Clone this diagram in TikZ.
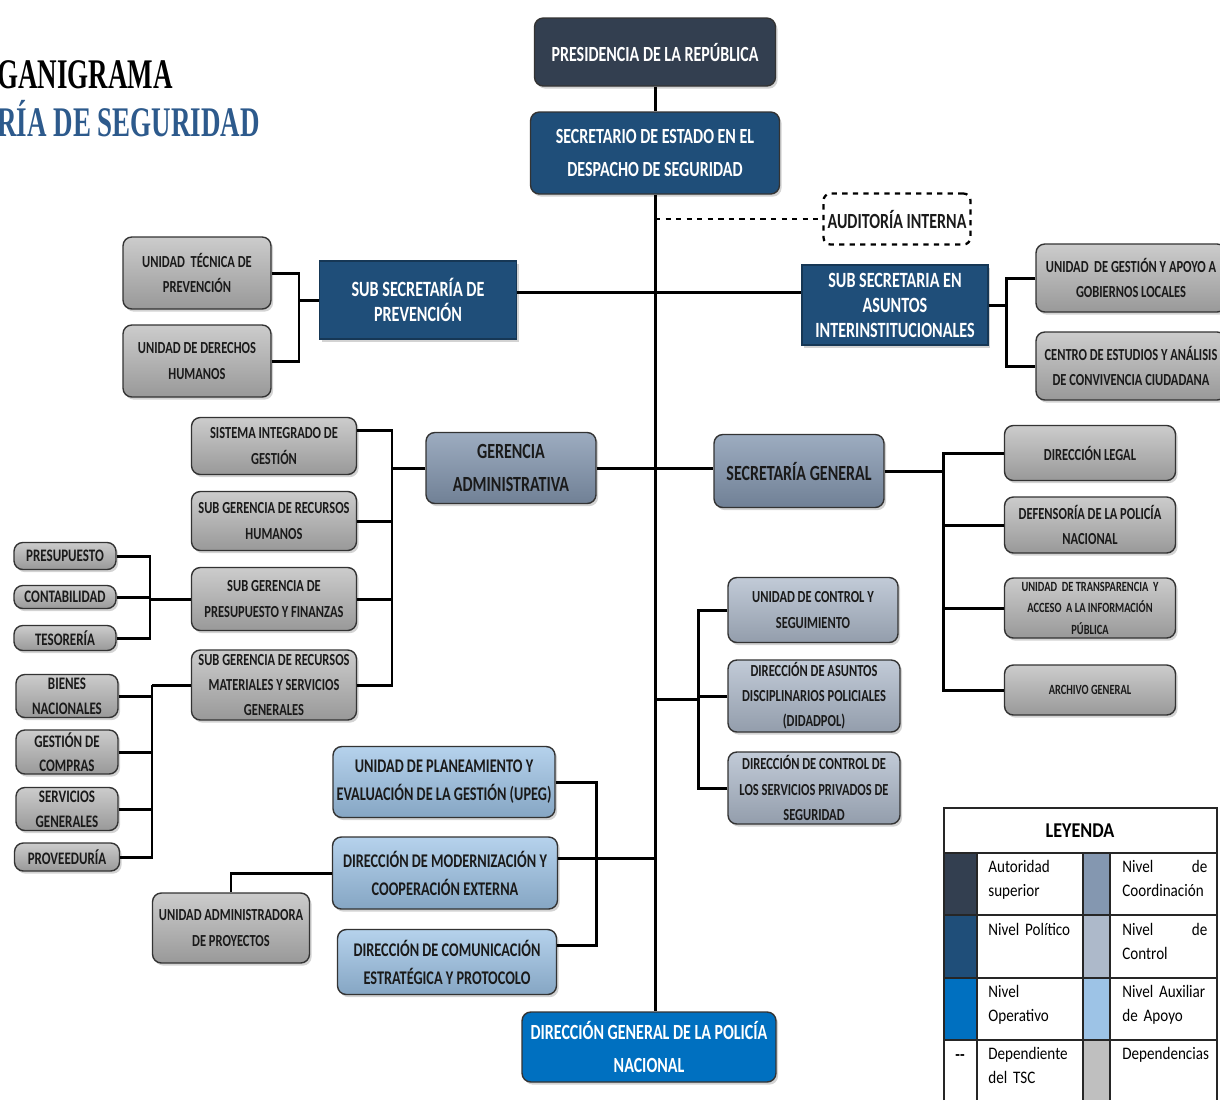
\documentclass[tikz,border=0pt]{standalone}
\usepackage{fontspec}
\newfontfamily\boxfont[FakeStretch=0.74]{Carlito}
\newfontfamily\legfont[FakeStretch=0.86]{Carlito}
\newfontfamily\titfont[FakeStretch=0.64]{Liberation Serif}
\usetikzlibrary{positioning,shadows,calc}
\definecolor{autor}{HTML}{333F50}
\definecolor{polit}{HTML}{1F4E79}
\definecolor{operat}{HTML}{0070C0}
\definecolor{coord}{HTML}{8497B0}
\definecolor{contr}{HTML}{ADB9CA}
\definecolor{auxil}{HTML}{9DC3E6}
\definecolor{depend}{HTML}{BFBFBF}
\definecolor{titblue}{HTML}{2D5A8C}
\definecolor{ink}{HTML}{1A1A1A}
\tikzset{
  unit/.style   ={draw=black!80, rounded corners=5pt, line width=0.8pt,
                  align=center, inner sep=1pt, text=ink,
                  font=\boxfont\bfseries,
                  drop shadow={opacity=0.35, shadow xshift=1.2pt,
                  shadow yshift=-1.5pt}},
  autbox/.style ={unit, fill=autor, text=white},
  polbox/.style ={unit, fill=polit, text=white},
  ssbox/.style  ={unit, rounded corners=0pt, draw=polit!70!black,
                  fill=polit, text=white},
  opbox/.style  ={unit, fill=operat, text=white},
  cobox/.style  ={unit, top color=coord!80!white, bottom color=coord!85!black},
  ctbox/.style  ={unit, top color=contr!75!white, bottom color=contr!85!black},
  axbox/.style  ={unit, top color=auxil!75!white, bottom color=auxil!85!black},
  dpbox/.style  ={unit, top color=depend!80!white, bottom color=depend!80!black},
  audbox/.style ={draw, dashed, rounded corners=4pt, line width=1.3pt,
                  fill=white, text=ink, inner sep=1pt},
  fbig/.style   ={font=\boxfont\bfseries\fontsize{12.3}{18.6}\selectfont},
  fss/.style    ={font=\boxfont\bfseries\fontsize{12.4}{14.2}\selectfont},
  faux/.style   ={font=\boxfont\bfseries\fontsize{11}{16}\selectfont},
  fmid/.style   ={font=\boxfont\bfseries\fontsize{9.6}{14.3}\selectfont},
  fsml/.style   ={font=\boxfont\bfseries\fontsize{10}{14}\selectfont},
  ftiny/.style  ={font=\boxfont\bfseries\fontsize{8}{12.2}\selectfont},
  link/.style   ={line width=1.7pt},
  legtxt/.style ={anchor=north west, inner sep=0pt, align=left,
                  font=\legfont\fontsize{10}{13.7}\selectfont},
  titl/.style   ={anchor=base west, inner sep=0pt,
                  font=\titfont\bfseries\fontsize{24}{28}\selectfont},
}
\begin{document}
\begin{tikzpicture}[x=0.02cm, y=-0.02cm]
  \useasboundingbox (0,0) rectangle (1220,1100);
  % ---- title
  \node[titl] (tit1) at (-3,88) {GANIGRAMA};
  \node[titl, text=titblue] (tit2) at (-3,136) {RÍA DE SEGURIDAD};
  % ---- top of the chain
  \node[autbox, fbig, minimum width=4.82cm, minimum height=1.36cm] (pres) at (655,52)
    {PRESIDENCIA DE LA REPÚBLICA};
  \node[polbox, fbig, minimum width=4.98cm, minimum height=1.64cm] (sec) at (655,153)
    {SECRETARIO DE ESTADO EN EL\\DESPACHO DE SEGURIDAD};
  \node[audbox, fbig, minimum width=2.94cm, minimum height=1.02cm] (aud) at (897,219)
    {AUDITORÍA INTERNA};
  \node[opbox, fbig, minimum width=5.08cm, minimum height=1.4cm] (dgpn) at (649,1047)
    {DIRECCIÓN GENERAL DE LA POLICÍA\\NACIONAL};
  % ---- sub secretarias
  \node[ssbox, fss, minimum width=3.94cm, minimum height=1.56cm] (ssp) at (418,300)
    {SUB SECRETARÍA DE\\PREVENCIÓN};
  \node[ssbox, fss, minimum width=3.72cm, minimum height=1.6cm] (ssai) at (895,305)
    {SUB SECRETARIA EN\\ASUNTOS\\INTERINSTITUCIONALES};
  \node[dpbox, fmid, minimum width=2.96cm, minimum height=1.44cm] (utp) at (197,273)
    {UNIDAD\ \ TÉCNICA DE\\PREVENCIÓN};
  \node[dpbox, fmid, minimum width=2.96cm, minimum height=1.44cm] (udh) at (197,361)
    {UNIDAD DE DERECHOS\\HUMANOS};
  \node[dpbox, fmid, minimum width=3.8cm, minimum height=1.36cm] (ugal) at (1131,278)
    {UNIDAD\ \ DE GESTIÓN Y APOYO A\\GOBIERNOS LOCALES};
  \node[dpbox, fmid, minimum width=3.8cm, minimum height=1.36cm] (ceac) at (1131,366)
    {CENTRO DE ESTUDIOS Y ANÁLISIS\\DE CONVIVENCIA CIUDADANA};
  % ---- gerencia administrativa
  \node[cobox, fbig, minimum width=3.4cm, minimum height=1.42cm] (ger) at (511,468)
    {GERENCIA\\ADMINISTRATIVA};
  \node[dpbox, fmid, minimum width=3.3cm, minimum height=1.14cm] (sig) at (274,446)
    {SISTEMA INTEGRADO DE\\GESTIÓN};
  \node[dpbox, fmid, minimum width=3.3cm, minimum height=1.18cm] (sgrh) at (274,521)
    {SUB GERENCIA DE RECURSOS\\HUMANOS};
  \node[dpbox, fmid, minimum width=3.3cm, minimum height=1.26cm] (sgpf) at (274,599)
    {SUB GERENCIA DE\\PRESUPUESTO Y FINANZAS};
  \node[dpbox, fmid, minimum width=3.3cm, minimum height=1.4cm, inner sep=0pt] (sgrm) at (274,685)
    {SUB GERENCIA DE RECURSOS\\MATERIALES Y SERVICIOS\\GENERALES};
  \node[dpbox, fsml, minimum width=2.04cm, minimum height=0.54cm] (prs) at (65,556) {PRESUPUESTO};
  \node[dpbox, fsml, minimum width=2.04cm, minimum height=0.46cm, inner sep=0pt] (cont) at (65,597) {CONTABILIDAD};
  \node[dpbox, fsml, minimum width=2.04cm, minimum height=0.5cm] (teso) at (65,638) {TESORERÍA};
  \node[dpbox, fsml, minimum width=2.04cm, minimum height=0.86cm, inner sep=0pt] (bn) at (67,696)
    {BIENES\\NACIONALES};
  \node[dpbox, fsml, minimum width=2.04cm, minimum height=0.88cm, inner sep=0pt] (gc) at (67,752)
    {GESTIÓN DE\\COMPRAS};
  \node[dpbox, fsml, minimum width=2.04cm, minimum height=0.86cm, inner sep=0pt] (sgen) at (67,809)
    {SERVICIOS\\GENERALES};
  \node[dpbox, fsml, minimum width=2.1cm, minimum height=0.56cm] (prov) at (67,857) {PROVEEDURÍA};
  % ---- secretaria general
  \node[cobox, fbig, minimum width=3.4cm, minimum height=1.46cm] (sg) at (799,471)
    {SECRETARÍA GENERAL};
  \node[dpbox, fmid, minimum width=3.42cm, minimum height=1.1cm] (dl) at (1090,453)
    {DIRECCIÓN LEGAL};
  \node[dpbox, fmid, minimum width=3.42cm, minimum height=1.12cm] (dpn) at (1090,525)
    {DEFENSORÍA DE LA POLICÍA\\NACIONAL};
  \node[dpbox, ftiny, minimum width=3.42cm, minimum height=1.2cm, inner sep=0pt] (utai) at (1090,608)
    {UNIDAD\ \ DE TRANSPARENCIA\ \ Y\\ACCESO\ \ A LA INFORMACIÓN\\PÚBLICA};
  \node[dpbox, ftiny, minimum width=3.42cm, minimum height=1.0cm] (ag) at (1090,690)
    {ARCHIVO GENERAL};
  % ---- control
  \node[ctbox, fmid, minimum width=3.4cm, minimum height=1.3cm] (ucs) at (813,610)
    {UNIDAD DE CONTROL Y\\SEGUIMIENTO};
  \node[ctbox, fmid, minimum width=3.44cm, minimum height=1.44cm, inner sep=0pt] (dadp) at (814,696)
    {DIRECCIÓN DE ASUNTOS\\DISCIPLINARIOS POLICIALES\\(DIDADPOL)};
  \node[ctbox, fmid, minimum width=3.44cm, minimum height=1.44cm, inner sep=0pt] (dcsp) at (814,788)
    {DIRECCIÓN DE CONTROL DE\\LOS SERVICIOS PRIVADOS DE\\SEGURIDAD};
  % ---- apoyo
  \node[axbox, faux, minimum width=4.44cm, minimum height=1.42cm] (upeg) at (444,782)
    {UNIDAD DE PLANEAMIENTO Y\\EVALUACIÓN DE LA GESTIÓN (UPEG)};
  \node[axbox, faux, minimum width=4.5cm, minimum height=1.44cm] (dmce) at (445,873)
    {DIRECCIÓN DE MODERNIZACIÓN Y\\COOPERACIÓN EXTERNA};
  \node[axbox, faux, minimum width=4.38cm, minimum height=1.3cm] (dcep) at (447,962)
    {DIRECCIÓN DE COMUNICACIÓN\\ESTRATÉGICA Y PROTOCOLO};
  \node[dpbox, fmid, minimum width=3.14cm, minimum height=1.4cm] (uap) at (231,928)
    {UNIDAD ADMINISTRADORA\\DE PROYECTOS};
  % ---- spine points of the brackets
  \coordinate (bpv) at (299,300);
  \coordinate (bsa) at (1006,305);
  \coordinate (bga) at (392,468);
  \coordinate (bpf) at (150,599);
  \coordinate (brm) at (152,685);
  \coordinate (bsg) at (943,471);
  \coordinate (bct) at (698,699);
  \coordinate (bax) at (596,858);
  \coordinate (sspr) at ([yshift=0.16cm]ssp.east);
  % ---- connectors
  \draw[link] (pres) -- (sec);
  \draw[link] (sec.south) -- (sec.south |- dgpn.north);
  \draw[link, dashed, line width=1.3pt] (sec.south |- aud.west) -- (aud.west);
  \draw[link] (sspr) -- (ssai.west |- sspr);
  \draw[link] (ssp.west) -- (bpv);
  \foreach \n in {utp,udh}
    \draw[link] (\n.east) -| (bpv);
  \draw[link] (ssai.east) -- (bsa);
  \foreach \n in {ugal,ceac}
    \draw[link] (\n.west) -| (bsa);
  \draw[link] (ger.east) -- (sg.west |- ger.east);
  \draw[link] (ger.west) -- (bga);
  \draw[link] ([yshift=0.32cm]sig.east) -| (bga);
  \foreach \n in {sgrh,sgpf,sgrm}
    \draw[link] (\n.east) -| (bga);
  \draw[link] (sgpf.west) -- (bpf);
  \foreach \n in {prs,cont,teso}
    \draw[link] (\n.east) -| (bpf);
  \draw[link] (sgrm.west) -- (brm);
  \foreach \n in {bn,gc,sgen,prov}
    \draw[link] (\n.east) -| (brm);
  \draw[link] (sg.east) -- (bsg);
  \foreach \n in {dl,dpn,utai,ag}
    \draw[link] (\n.west) -| (bsg);
  \draw[link] (sec.south |- bct) -- (bct);
  \foreach \n in {ucs,dadp,dcsp}
    \draw[link] (\n.west) -| (bct);
  \draw[link] (bax) -- (sec.south |- bax);
  \draw[link] (upeg.east) -| (bax);
  \draw[link] ([yshift=0.3cm]dmce.east) -| (bax);
  \draw[link] ([yshift=0.34cm]dcep.east) -| (bax);
  \draw[link] (dmce.west) -| (uap.north);
  % ---- leyenda
  \foreach \ya/\yb/\ca/\cb in {853/915/autor/coord, 915/978/polit/contr,
                               978/1040/operat/auxil, 1040/1100/white/depend}{
    \fill[\ca] (944,\ya) rectangle (977,\yb);
    \fill[\cb] (1083,\ya) rectangle (1110,\yb);
  }
  \begin{scope}[line width=1pt, black!85]
    \draw (944,1100) -- (944,808) -- (1217,808) -- (1217,1100);
    \foreach \yy in {853,915,978,1040}
      \draw (944,\yy) -- (1217,\yy);
    \foreach \xx in {977,1083,1110}
      \draw (\xx,853) -- (\xx,1100);
  \end{scope}
  \node[font=\legfont\bfseries\fontsize{12}{14}\selectfont] (leg) at (1080,831) {LEYENDA};
  \node[legtxt, text width=1.8cm] (lt1) at (988,860) {Autoridad\\superior};
  \node[legtxt, text width=1.7cm] (lt2) at (1122,860) {Nivel\hfill de\\Coordinación};
  \node[legtxt, text width=1.8cm] (lt3) at (988,923) {Nivel Político};
  \node[legtxt, text width=1.7cm] (lt4) at (1122,923) {Nivel\hfill de\\Control};
  \node[legtxt, text width=1.8cm] (lt5) at (988,985) {Nivel\\Operativo};
  \node[legtxt, text width=1.7cm] (lt6) at (1122,985) {Nivel Auxiliar\\de Apoyo};
  \node[legtxt, anchor=center, font=\legfont\bfseries\fontsize{10}{12}\selectfont] (lt0) at (960,1058) {--};
  \node[legtxt, text width=1.8cm] (lt7) at (988,1047) {Dependiente\\del TSC};
  \node[legtxt, text width=1.7cm] (lt8) at (1122,1047) {Dependencias};
\end{tikzpicture}
\end{document}
